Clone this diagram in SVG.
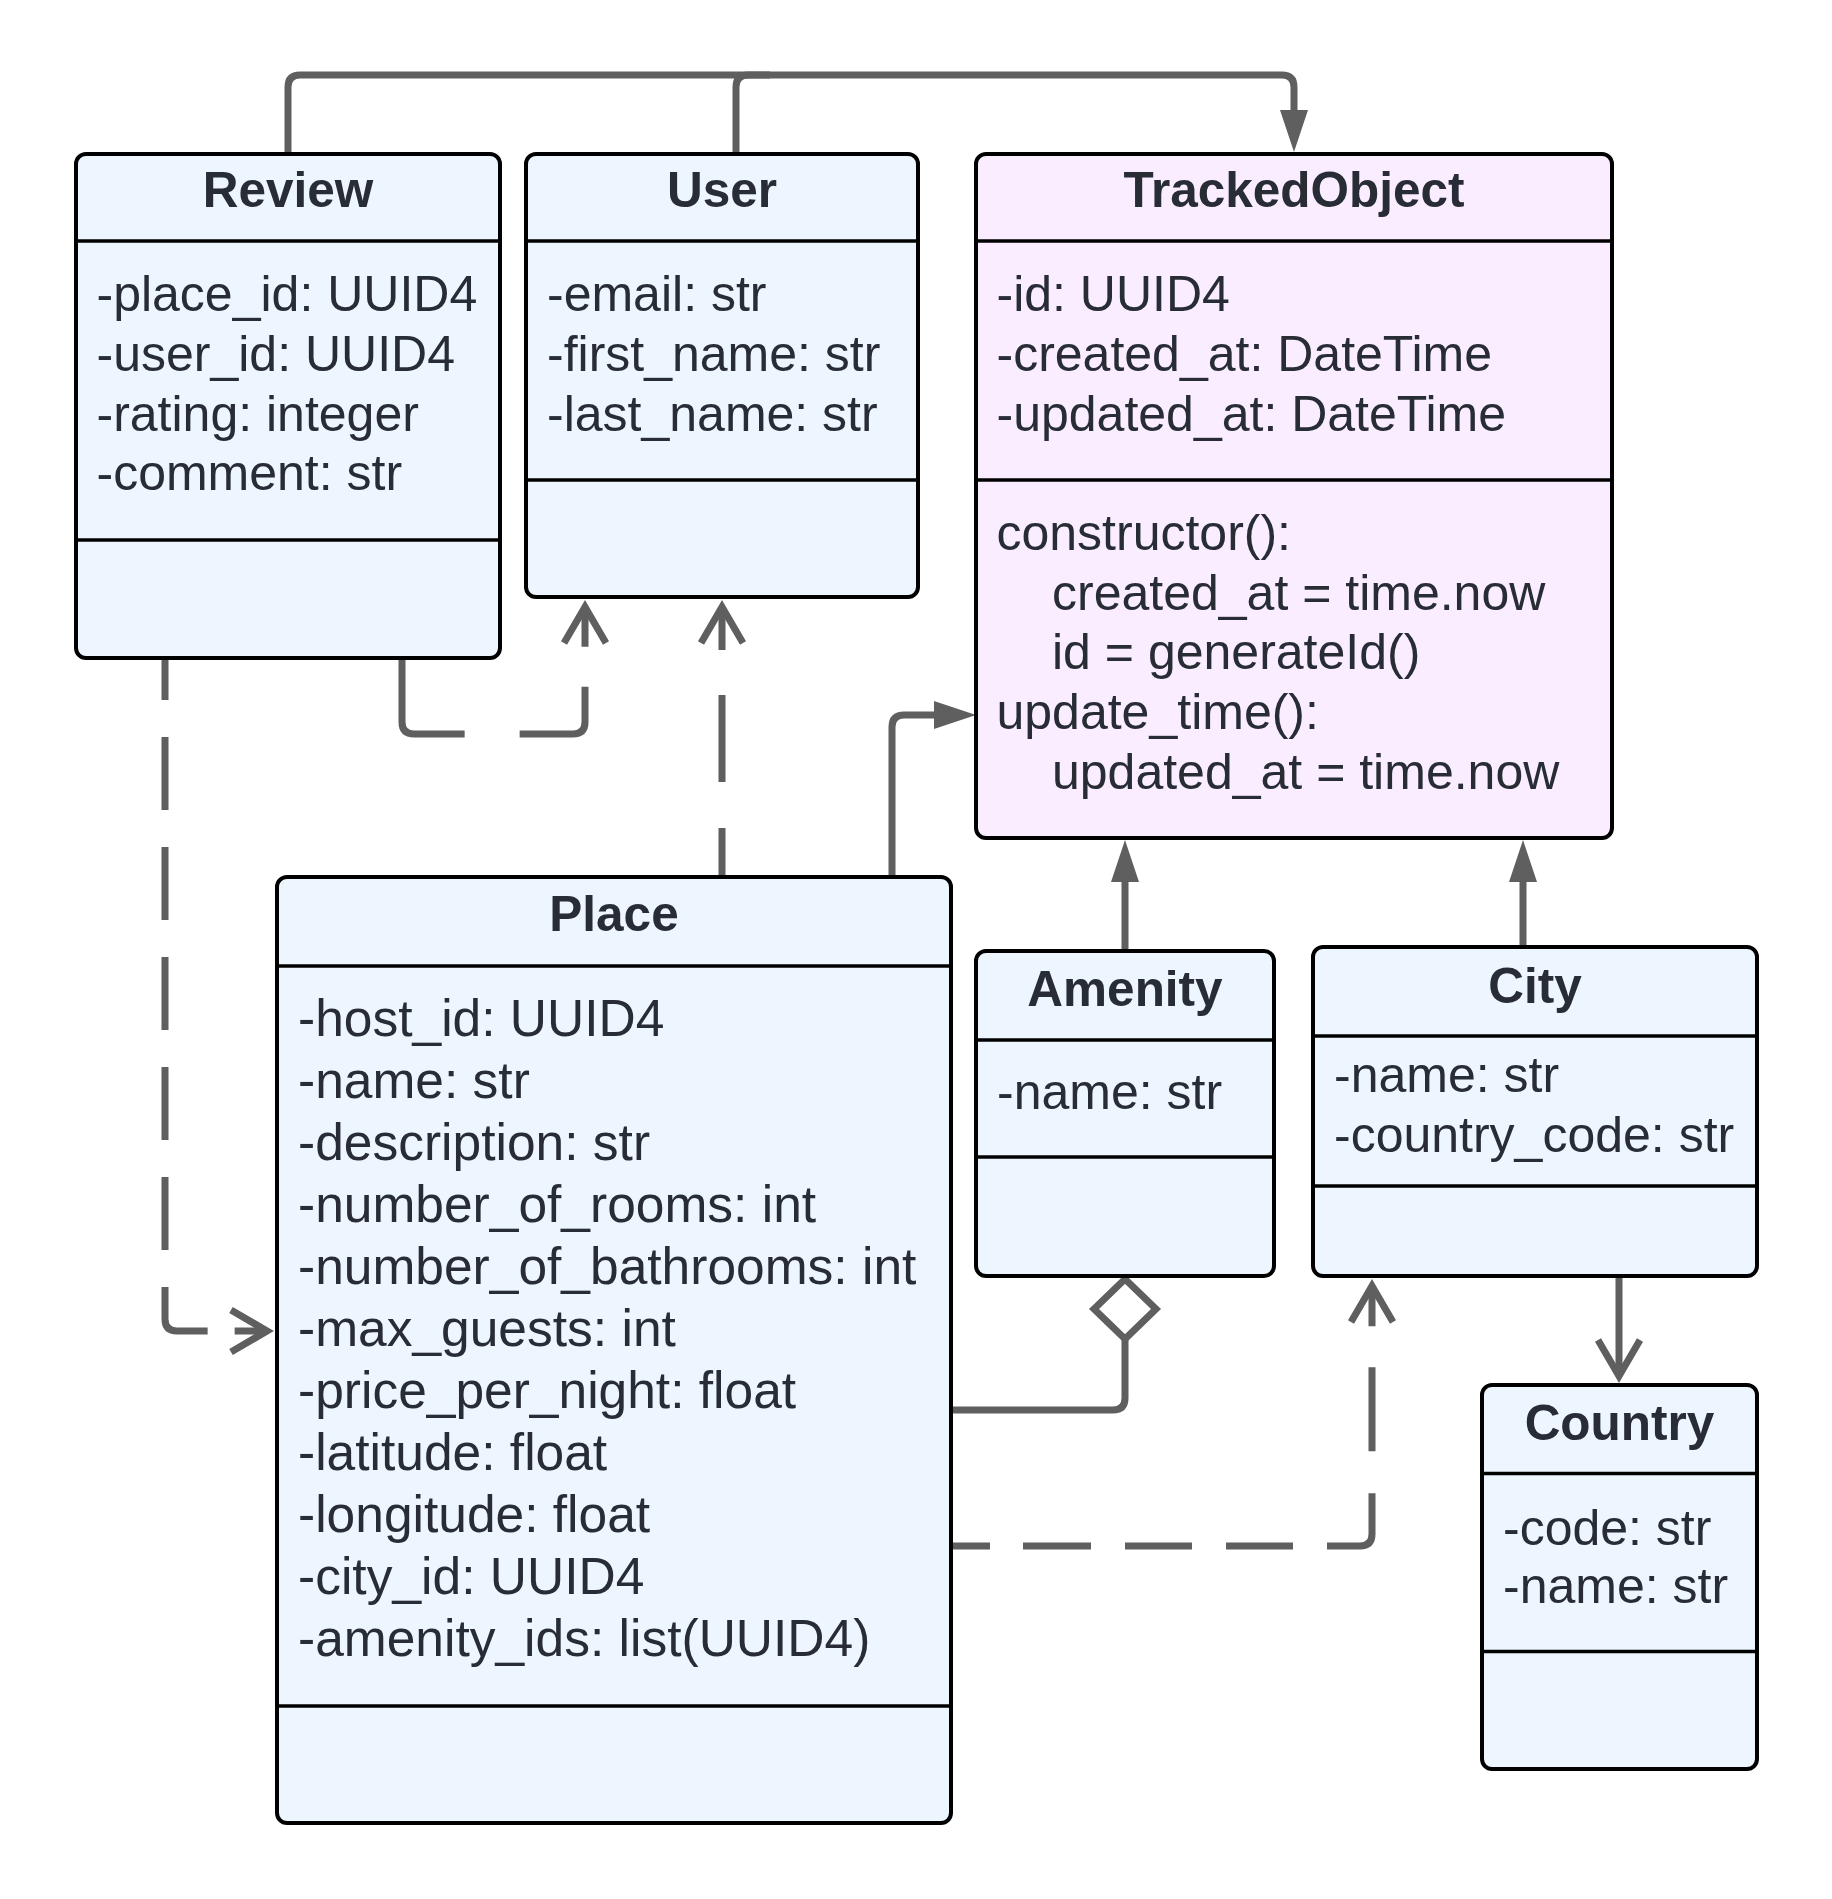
<svg xmlns="http://www.w3.org/2000/svg" width="1832" height="1899" viewBox="0 0 1832 1899">
<style>
.box{fill:#edf5ff;stroke:#000;stroke-width:4}
.pink{fill:#faedff}
.div{stroke:#000;stroke-width:3.5}
.t{font-family:"Liberation Sans",Arial,sans-serif;font-size:50px;fill:#282c35}
.h{font-weight:bold;text-anchor:middle;font-size:49.5px}
.pl{font-size:51.5px}
.c{fill:none;stroke:#5f5f5f;stroke-width:7}
</style>
<defs>
<marker id="tri" viewBox="0 -16 44 32" refX="0" refY="0" markerWidth="44" markerHeight="32" orient="auto" markerUnits="userSpaceOnUse">
<path d="M0,-14 L42,0 L0,14 z" fill="#5f5f5f"/>
</marker>
<marker id="open" viewBox="-50 -32 60 64" refX="0" refY="0" markerWidth="60" markerHeight="64" orient="auto" markerUnits="userSpaceOnUse">
<path d="M-36,-21 L0,0 L-36,21" fill="none" stroke="#5f5f5f" stroke-width="7" stroke-miterlimit="10"/>
</marker>
<marker id="dia" viewBox="-66 -38 72 76" refX="0" refY="0" markerWidth="72" markerHeight="76" orient="auto" markerUnits="userSpaceOnUse">
<path d="M0,0 L-30,-31 L-60,0 L-30,31 z" fill="#fff" stroke="#5f5f5f" stroke-width="7"/>
</marker>
</defs>
<rect width="1832" height="1899" fill="#fff"/>

<g id="connectors">
<path class="c" d="M288,152 V87 Q288,75 300,75 H1282 Q1294,75 1294,87 V110" marker-end="url(#tri)"/>
<path class="c" d="M736,152 V87 Q736,75 748,75 H770"/>
<path class="c" d="M892,876 V727 Q892,715 904,715 H934" marker-end="url(#tri)"/>
<path class="c" d="M1125,950 V882" marker-end="url(#tri)"/>
<path class="c" d="M1523,946 V882" marker-end="url(#tri)"/>
<path class="c" d="M1619,1277 V1376" marker-end="url(#open)"/>
<path class="c" d="M1125,1339 V1398 Q1125,1410 1113,1410 H952" marker-start="url(#dia)"/>
<path class="c" style="stroke-dasharray:134 55 108 40 100" d="M402,658 V722 Q402,734 414,734 H573 Q585,734 585,722 V607" marker-end="url(#open)"/>
<path class="c" style="stroke-dasharray:48 46 87 45 100" d="M722,876 V607" marker-end="url(#open)"/>
<path class="c" style="stroke-dasharray:42 37 73 37 73 37 73 37 73 37 73 37 82 27 100" d="M165,658 V1319 Q165,1331 177,1331 H267" marker-end="url(#open)"/>
<path class="c" style="stroke-dasharray:38 33 68 34 67 34 67 34 93 42 84 41 100" d="M952,1546 H1360 Q1372,1546 1372,1534 V1286" marker-end="url(#open)"/>
</g>

<g id="review">
<rect class="box" x="76" y="154" width="424" height="504" rx="10"/>
<line class="div" x1="76" y1="241" x2="500" y2="241"/>
<line class="div" x1="76" y1="540" x2="500" y2="540"/>
<text class="t h" x="288" y="207">Review</text>
<text class="t" x="96.5" y="311">-place_id: UUID4</text>
<text class="t" x="96.5" y="370.5">-user_id: UUID4</text>
<text class="t" x="96.5" y="430.5">-rating: integer</text>
<text class="t" x="96.5" y="490">-comment: str</text>
</g>

<g id="user">
<rect class="box" x="526" y="154" width="392" height="443" rx="10"/>
<line class="div" x1="526" y1="241" x2="918" y2="241"/>
<line class="div" x1="526" y1="480" x2="918" y2="480"/>
<text class="t h" x="722" y="207">User</text>
<text class="t" x="547" y="311">-email: str</text>
<text class="t" x="547" y="370.5">-first_name: str</text>
<text class="t" x="547" y="430.5">-last_name: str</text>
</g>

<g id="trackedobject">
<rect class="box pink" x="976" y="154" width="636" height="684" rx="10"/>
<line class="div" x1="976" y1="241" x2="1612" y2="241"/>
<line class="div" x1="976" y1="480" x2="1612" y2="480"/>
<text class="t h" x="1294" y="207">TrackedObject</text>
<text class="t" x="996.5" y="311">-id: UUID4</text>
<text class="t" x="996.5" y="371">-created_at: DateTime</text>
<text class="t" x="996.5" y="431">-updated_at: DateTime</text>
<text class="t" x="996.5" y="550">constructor():</text>
<text class="t" x="1052" y="609.5">created_at = time.now</text>
<text class="t" x="1052" y="669">id = generateId()</text>
<text class="t" x="996.5" y="729">update_time():</text>
<text class="t" x="1052" y="788.6">updated_at = time.now</text>
</g>

<g id="place">
<rect class="box" x="277" y="877" width="674" height="946" rx="10"/>
<line class="div" x1="277" y1="966" x2="951" y2="966"/>
<line class="div" x1="277" y1="1706" x2="951" y2="1706"/>
<text class="t h" x="614" y="931">Place</text>
<text class="t pl" x="298" y="1036">-host_id: UUID4</text>
<text class="t pl" x="298" y="1098">-name: str</text>
<text class="t pl" x="298" y="1160">-description: str</text>
<text class="t pl" x="298" y="1222">-number_of_rooms: int</text>
<text class="t pl" x="298" y="1284">-number_of_bathrooms: int</text>
<text class="t pl" x="298" y="1345.5">-max_guests: int</text>
<text class="t pl" x="298" y="1407.5">-price_per_night: float</text>
<text class="t pl" x="298" y="1469.5">-latitude: float</text>
<text class="t pl" x="298" y="1531.5">-longitude: float</text>
<text class="t pl" x="298" y="1593.5">-city_id: UUID4</text>
<text class="t pl" x="298" y="1655.5">-amenity_ids: list(UUID4)</text>
</g>

<g id="amenity">
<rect class="box" x="976" y="951" width="298" height="325" rx="10"/>
<line class="div" x1="976" y1="1040" x2="1274" y2="1040"/>
<line class="div" x1="976" y1="1157" x2="1274" y2="1157"/>
<text class="t h" x="1125" y="1005.5">Amenity</text>
<text class="t" x="997" y="1109">-name: str</text>
</g>

<g id="city">
<rect class="box" x="1313" y="947" width="444" height="329" rx="10"/>
<line class="div" x1="1313" y1="1036" x2="1757" y2="1036"/>
<line class="div" x1="1313" y1="1186" x2="1757" y2="1186"/>
<text class="t h" x="1535" y="1002.5">City</text>
<text class="t" x="1334" y="1091.7">-name: str</text>
<text class="t" x="1334" y="1151.7">-country_code: str</text>
</g>

<g id="country">
<rect class="box" x="1482" y="1385" width="275" height="384" rx="10"/>
<line class="div" x1="1482" y1="1473.5" x2="1757" y2="1473.5"/>
<line class="div" x1="1482" y1="1651.5" x2="1757" y2="1651.5"/>
<text class="t h" x="1619.5" y="1440">Country</text>
<text class="t" x="1503" y="1544.5">-code: str</text>
<text class="t" x="1503" y="1603">-name: str</text>
</g>
</svg>
